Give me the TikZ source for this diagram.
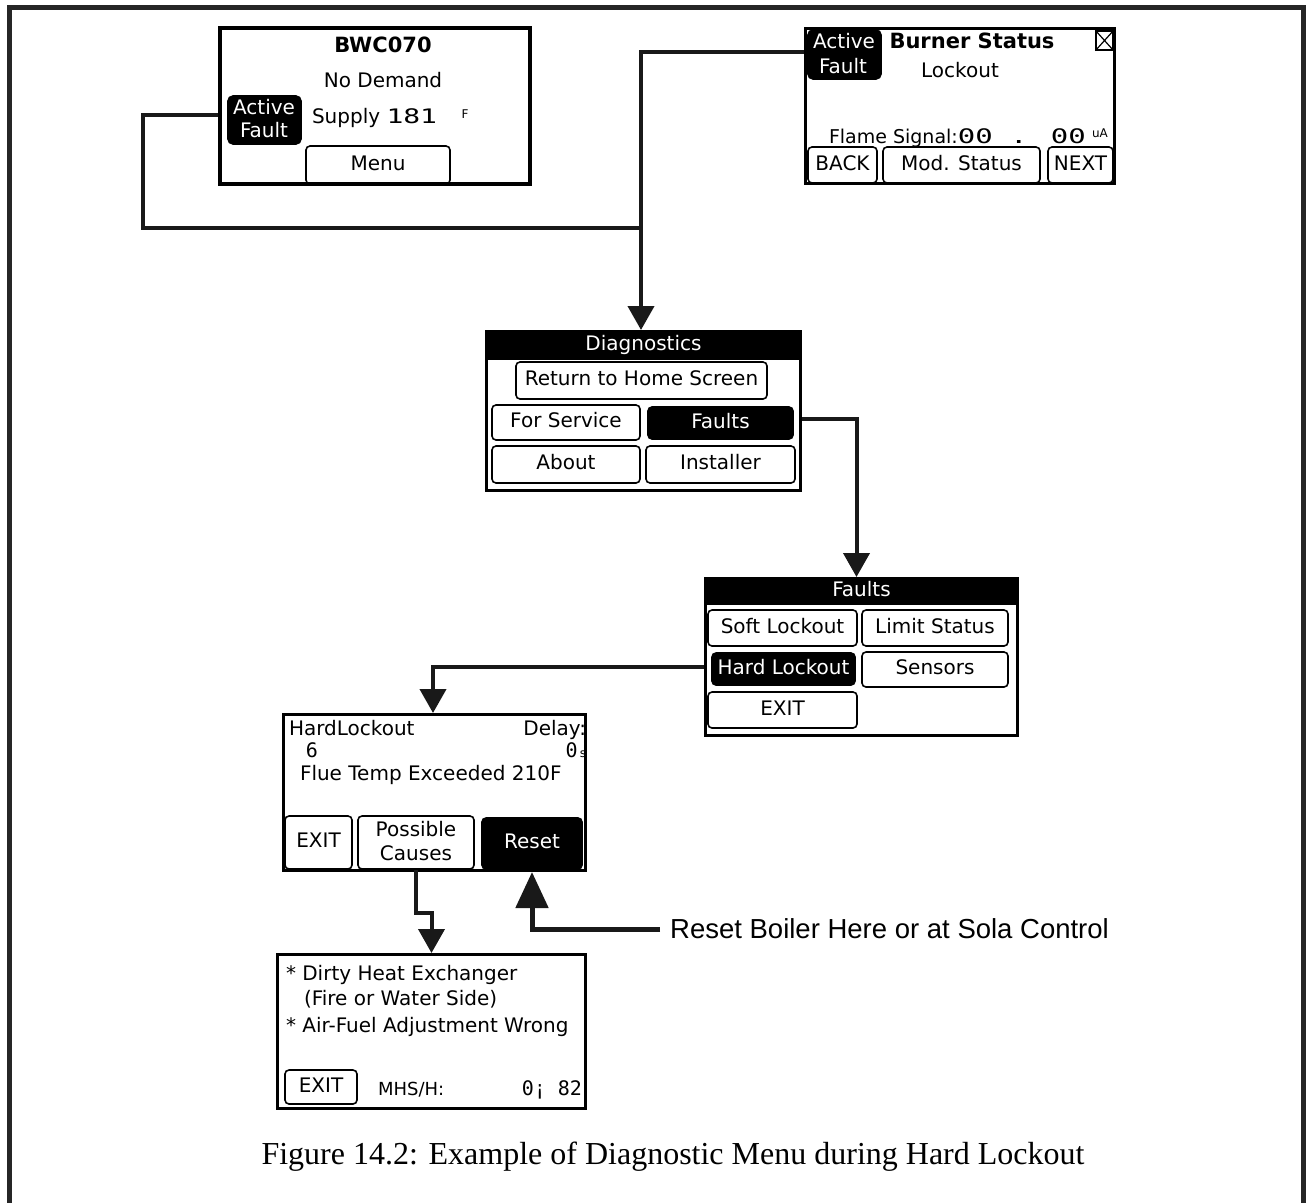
\documentclass[tikz,border=0pt]{standalone}
\usepackage{fontspec}
\usetikzlibrary{arrows.meta,calc,fit}
\newfontfamily\scrfont{DejaVu Sans}
\newfontfamily\scrmono{DejaVu Sans Mono}
\newfontfamily\lblfont{Liberation Sans}
\newfontfamily\capfont{Liberation Serif}
\tikzset{
  base/.style={inner sep=0pt, outer sep=0pt, font=\scrfont\fontsize{20}{22}\selectfont, text height=14pt, text depth=4pt},
  boldtxt/.style={base, font=\scrfont\bfseries\fontsize{21}{22}\selectfont},
  wtxt/.style={base, text=white},
  screen/.style={draw=black, line width=3pt, inner sep=0pt, fill=white},
  titlebar/.style={fill=black, inner sep=0pt, outer sep=0pt},
  btn/.style={draw=black, line width=1.6pt, rounded corners=4pt, inner sep=0pt},
  btnon/.style={btn, fill=black},
  conn/.style={line width=4pt, draw=black!90},
  arr/.style={conn, -{Triangle[width=26pt,length=24pt]}},
}
\begin{document}
\begin{tikzpicture}[x=1pt,y=-1pt]
\useasboundingbox (0,0) rectangle (1306,1202);
% outer frame
\draw[line width=5pt, black!85] (9.5,1205) -- (9.5,7.5) -- (1303.5,7.5) -- (1303.5,1205);

% ---------- screen 1 ----------
\node[screen, line width=4pt, fit={(220,28) (530,184)}] (s1) {};
\node[boldtxt] (s1t) at (383,47) {BWC070};
\node[base] (s1d) at (383,82) {No Demand};
\node[btnon, rounded corners=5pt, fit={(228,96) (301,144)}] (s1af) {};
\node[wtxt] (s1a1) at (264,109) {Active};
\node[wtxt] (s1a2) at (264,132) {Fault};
\node[base, anchor=west] (s1s) at (312,118) {Supply \scalebox{1.4}[1]{\scrmono 181}};
\node[inner sep=0pt, font=\scrfont\fontsize{12}{12}\selectfont] (s1f) at (465,114) {F};
\node[btn, fit={(306,146) (450,184)}, label={[base]center:Menu}] (s1m) {};

% ---------- screen 2 ----------
\node[screen, fit={(805.5,28.5) (1114.5,183.5)}] (s2) {};
\node[btnon, rounded corners=5pt, fit={(808,30) (881,79)}] (s2af) {};
\node[wtxt] (s2a1) at (844,43) {Active};
\node[wtxt] (s2a2) at (843,68) {Fault};
\node[boldtxt] (s2t) at (972,43) {Burner Status};
\node[draw, line width=1.2pt, inner sep=0pt, fit={(1096,31) (1113,50)}] (s2x) {};
\draw[line width=1.2pt] (s2x.north west) -- (s2x.south east) (s2x.north east) -- (s2x.south west);
\node[base] (s2l) at (960,72) {Lockout};
\node[base, anchor=west, font=\scrfont\fontsize{19}{20}\selectfont] (s2f) at (829,138) {Flame Signal:\scalebox{1.45}[1]{\scrmono\fontsize{20}{22}\selectfont 00 . 00}};
\node[inner sep=0pt, font=\scrfont\fontsize{12}{12}\selectfont] (s2u) at (1100,133) {uA};
\node[btn, fit={(808,147) (877,183)}, label={[base]center:BACK}] (s2b1) {};
\node[btn, fit={(883,147) (1040,183)}, label={[base]center:Mod. Status}] (s2b2) {};
\node[btn, fit={(1048,147) (1113,183)}, label={[base]center:NEXT}] (s2b3) {};

% ---------- diagnostics ----------
\node[screen, fit={(486.5,331.5) (800.5,490.5)}] (diag) {};
\node[titlebar, fit={(485,330) (802,360)}, label={[wtxt]center:Diagnostics}] (dtb) {};
\node[btn, fit={(516,362) (767,399)}, label={[base]center:Return to Home Screen}] (drh) {};
\node[btn, fit={(492,405) (640,440)}, label={[base]center:For Service}] (dfs) {};
\node[btnon, fit={(648,407) (793,439)}, label={[wtxt]center:Faults}] (dfl) {};
\node[btn, fit={(492,446) (640,483)}, label={[base]center:About}] (dab) {};
\node[btn, fit={(646,446) (795,483)}, label={[base]center:Installer}] (din) {};

% ---------- faults ----------
\node[screen, fit={(705.5,578.5) (1017.5,735.5)}] (flt) {};
\node[titlebar, fit={(704,577) (1019,605)}, label={[wtxt]center:Faults}] (ftb) {};
\node[btn, fit={(708,610) (857,646)}, label={[base]center:Soft Lockout}] (fsl) {};
\node[btn, fit={(862,610) (1008,646)}, label={[base]center:Limit Status}] (fls) {};
\node[btnon, fit={(712,653) (855,685)}, label={[wtxt]center:Hard Lockout}] (fhl) {};
\node[btn, fit={(862,652) (1008,687)}, label={[base]center:Sensors}] (fse) {};
\node[btn, fit={(708,692) (857,728)}, label={[base]center:EXIT}] (fex) {};

% ---------- hard lockout ----------
\node[screen, fit={(283.5,714.5) (585.5,870.5)}] (hl) {};
\node[base, anchor=west] (hl1) at (289,730) {HardLockout};
\node[base, anchor=east] (hl2) at (586,730) {Delay:};
\node[base] (hl3) at (312,752) {\scrmono 6};
\node[base, anchor=east] (hl4) at (586,752) {{\scrmono 0}{\fontsize{12}{12}\selectfont\,s}};
\node[base, anchor=west] (hl5) at (300,775) {Flue Temp Exceeded 210F};
\node[btn, fit={(285,816) (352,869)}, label={[base]center:EXIT}] (hle) {};
\node[btn, fit={(358,816) (474,869)}] (hlp) {};
\node[base] (hlp1) at (416,831) {Possible};
\node[base] (hlp2) at (416,855) {Causes};
\node[btnon, fit={(482,818) (582,869)}, label={[wtxt]center:Reset}] (hlr) {};

% ---------- possible causes ----------
\node[screen, fit={(277.5,954.5) (585.5,1108.5)}] (pc) {};
\node[base, anchor=west] (pc1) at (286,975) {* Dirty Heat Exchanger};
\node[base, anchor=west] (pc2) at (304,1000) {(Fire or Water Side)};
\node[base, anchor=west] (pc3) at (286,1027) {* Air-Fuel Adjustment Wrong};
\node[btn, fit={(285,1070) (357,1104)}, label={[base]center:EXIT}] (pce) {};
\node[base, anchor=west, font=\scrfont\fontsize{18}{20}\selectfont] (pc4) at (378,1090) {MHS/H:};
\node[base, anchor=east] (pc5) at (582,1090) {\scrmono 0¡ 82};

% ---------- texts ----------
\node[inner sep=0pt, anchor=west, font=\lblfont\fontsize{27.5}{30}\selectfont] (lbl) at (670,929) {Reset Boiler Here or at Sola Control};
\node[inner sep=0pt, font=\capfont\fontsize{32}{36}\selectfont] (cap) at (673,1157) {Figure 14.2: Example of Diagnostic Menu during Hard Lockout};

% ---------- connectors ----------
\coordinate (j) at (641,228);
\draw[conn] ($(s1.west)+(0,9)$) -- ++(-75,0) |- (j);
\draw[arr] ($(s2.west)+(0,-54)$) -| (j |- diag.north);
\draw[arr] ($(diag.east)+(0,8)$) -| ($(flt.north)+(-5,0)$);
\draw[arr] ($(flt.west)+(0,10)$) -| ($(hl.north)+(-1.5,0)$);
\draw[arr] (hlp.south) -- ($(hlp.south)+(0,43)$) -| (pc.north);
\draw[conn, line width=5pt, -{Triangle[width=32pt,length=36pt]}] ($(lbl.west)+(-10,0)$) -| (hlr.south |- hl.south);
\end{tikzpicture}
\end{document}
